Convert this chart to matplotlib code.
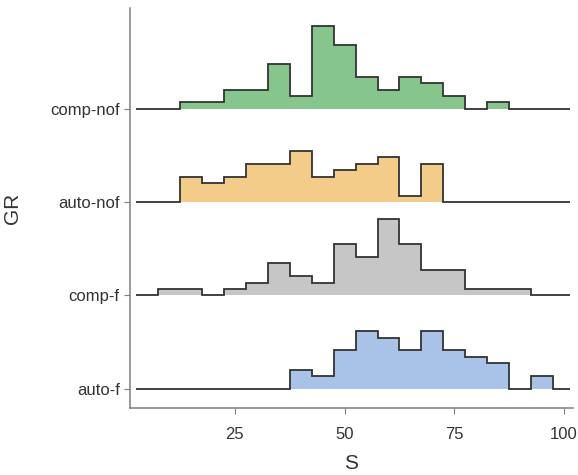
import numpy as np
import matplotlib.pyplot as plt

plt.rcParams['font.family'] = ['Liberation Sans', 'DejaVu Sans']

groups = ["auto-f", "comp-f", "auto-nof", "comp-nof"]
colors = ["#A9C3E8", "#C6C6C6", "#F2CC88", "#86C68C"]

# counts per 5-wide bin, first bin starting at the given left edge
starts = [37.5, 7.5, 12.5, 12.5]
counts = [
    [3, 2, 6, 9, 8, 6, 9, 6, 5, 4, 0, 2],
    [1, 1, 0, 1, 2, 5, 3, 2, 8, 6, 12, 8, 4, 4, 1, 1, 1],
    [4, 3, 4, 6, 6, 8, 4, 5, 6, 7, 1, 6],
    [1, 1, 3, 3, 7, 2, 13, 10, 5, 3, 5, 4, 2, 0, 1],
]

edges = np.arange(2.5, 103, 5.0)
edges[-1] = 101.3
unit = 0.0686

fig = plt.figure(figsize=(5.78, 4.75), dpi=100)
ax = fig.add_axes([0.225, 0.141, 0.766, 0.842])

for i, g in enumerate(groups):
    full = np.zeros(len(edges) - 1)
    k = int(round((starts[i] - edges[0]) / 5))
    full[k:k + len(counts[i])] = counts[i]
    y0 = i + 1
    top = y0 + full * unit
    z = 10 - i
    ax.stairs(top, edges, baseline=y0, fill=True, color=colors[i], lw=0, zorder=z)
    ax.stairs(top, edges, baseline=None, color="#333333", lw=1.3, zorder=z + 0.5)

ax.set_xlim(1.1, 102)
ax.set_ylim(0.793, 5.08)
ax.set_yticks(range(1, 5))
ax.set_yticklabels(groups)
ax.set_xticks([25, 50, 75, 100])

for s in ["top", "right"]:
    ax.spines[s].set_visible(False)
for s in ["left", "bottom"]:
    ax.spines[s].set_color("#7F7F7F")
    ax.spines[s].set_linewidth(1.1)
ax.tick_params(colors="#7F7F7F", labelcolor="#333333", labelsize=12, length=4)
ax.tick_params(axis="x", pad=10)

ax.set_xlabel("S", fontsize=15, color="#333333", labelpad=8)
ax.set_ylabel("GR", fontsize=15, color="#333333", labelpad=20)

fig.savefig("out.png", dpi=100)
